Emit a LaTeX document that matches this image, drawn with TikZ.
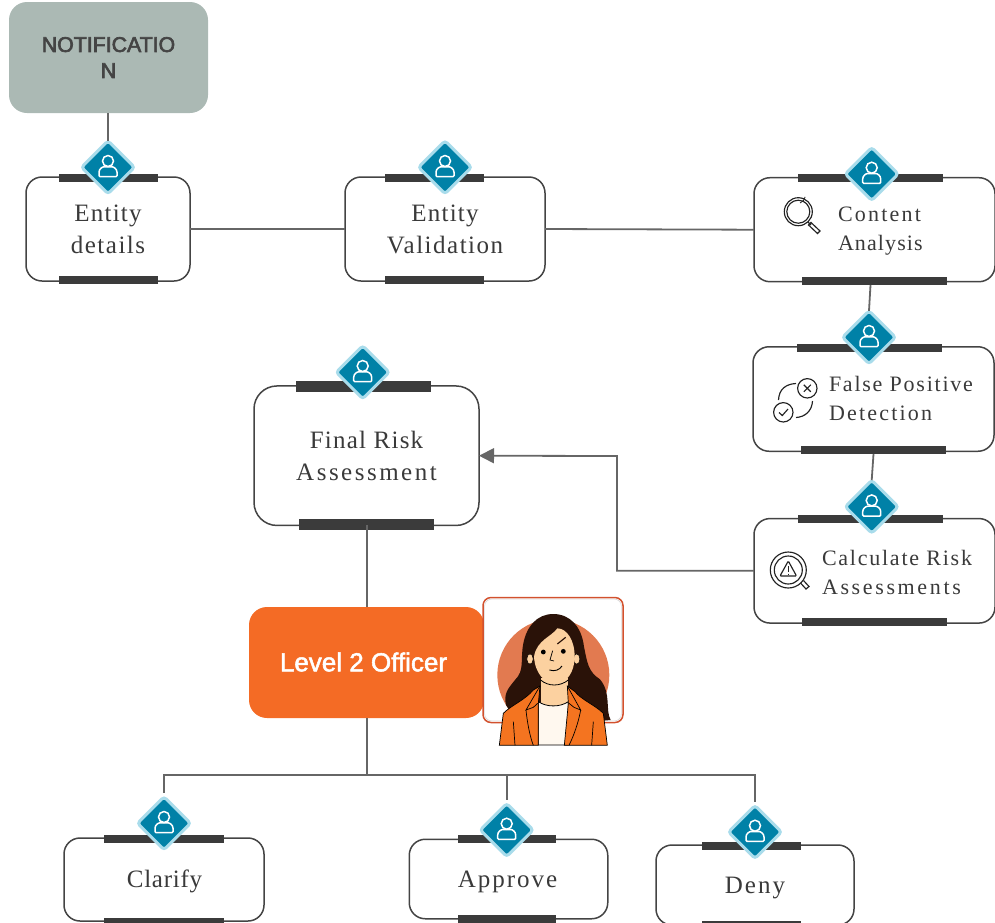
\documentclass[tikz,border=0pt]{standalone}
\usepackage{fontspec}
\usetikzlibrary{shapes.geometric,arrows.meta,calc}
\setmainfont{Liberation Sans}
\newfontfamily\lsb[FakeBold=3]{Liberation Sans}
\newfontfamily\lsc[FakeBold=2]{Liberation Sans}
\newfontfamily\lss[LetterSpace=3]{Liberation Serif}
\newfontfamily\lsn[LetterSpace=5]{Liberation Serif}
\newfontfamily\lso[LetterSpace=6]{Liberation Serif}
\newfontfamily\lsm[LetterSpace=8]{Liberation Serif}
\newfontfamily\lsx[LetterSpace=10]{Liberation Serif}
\newfontfamily\lsw[LetterSpace=12]{Liberation Serif}
\definecolor{ink}{HTML}{444444}
\definecolor{txtc}{HTML}{3A3A3A}
\definecolor{barc}{HTML}{3B3B3B}
\definecolor{linec}{HTML}{666666}
\definecolor{teal1}{HTML}{0081A7}
\definecolor{teal2}{HTML}{A9DCEB}
\definecolor{sage}{HTML}{ABB9B4}
\definecolor{orng}{HTML}{F46B25}
\definecolor{framec}{HTML}{D2512E}
\definecolor{discc}{HTML}{E27A50}
\definecolor{hairc}{HTML}{2A1208}
\definecolor{skinc}{HTML}{FCD1A0}
\definecolor{jackc}{HTML}{F47420}
\definecolor{shirtc}{HTML}{FFF8EF}
\definecolor{iconc}{HTML}{222222}
\tikzset{
  rbox/.style={draw=ink,fill=white,line width=1.5pt,rounded corners=16pt,inner sep=0pt,outer sep=0pt,align=center,text=txtc},
  barn/.style={fill=barc,inner sep=0pt,outer sep=0pt,minimum height=8pt},
  diam/.style={diamond,aspect=1,fill=teal1,draw=teal2,line width=3pt,rounded corners=3pt,inner sep=0pt,outer sep=0pt,minimum width=53pt,minimum height=53pt},
  conn/.style={draw=linec,line width=1.8pt},
  lbl/.style={inner sep=0pt,outer sep=0pt,align=left,text=txtc},
  ctr/.style={inner sep=0pt,outer sep=0pt,align=center,text=txtc},
  ico/.style={draw=iconc,line width=1.15pt,fill=none},
}
% name, centre x, centre y
\newcommand\persondiam[3]{%
  \node[diam] (#1) at (#2,#3) {};
  \begin{scope}[shift={(#2,#3)}]
    \draw[white,line width=1.5pt] (0,-6.3) circle (5.5pt);
    \draw[white,line width=1.5pt,rounded corners=1pt] (-9,9.3) -- (-9,6) .. controls (-9,1.5) and (-5.5,-.5) .. (-3,-.5) -- (3,-.5) .. controls (5.5,-.5) and (9,1.5) .. (9,6) -- (9,9.3) -- cycle;
  \end{scope}%
}
\begin{document}
\begin{tikzpicture}[x=1pt,y=-1pt]
\useasboundingbox (0,0) rectangle (995,922);
\clip (0,0) rectangle (995,922);

% Notification
\node[fill=sage,rounded corners=18pt,minimum width=199pt,minimum height=111pt,inner sep=0pt,outer sep=0pt,align=center,text=ink,font=\fontsize{21.3}{26}\selectfont] (notif) at (108.5,57.5) {\lsb NOTIFICATIO\\\lsb N};

% Boxes
\node[rbox,minimum width=164pt,minimum height=104pt,font=\fontsize{25}{32}\selectfont] (ent) at (108,229) {\lsn Entity\\\lso details};
\node[rbox,minimum width=200pt,minimum height=104pt,font=\fontsize{25}{32}\selectfont] (val) at (445,229) {\lsn Entity\\\lso Validation};
\node[rbox,minimum width=241pt,minimum height=104pt] (cont) at (874.5,229.7) {};
\node[rbox,minimum width=241pt,minimum height=104.5pt] (fals) at (873.5,399) {};
\node[rbox,minimum width=241pt,minimum height=104.5pt] (calc) at (874.5,570.8) {};
\node[rbox,rounded corners=23pt,minimum width=225pt,minimum height=139.5pt,font=\fontsize{25}{32}\selectfont] (final) at (366.5,455.7) {\lsn Final Risk\\\lsx Assessment};
\node[rbox,minimum width=200pt,minimum height=83pt] (clar) at (164,879.5) {};
\node[rbox,minimum width=198.5pt,minimum height=79.5pt] (appr) at (508.5,879) {};
\node[rbox,minimum width=198pt,minimum height=80pt] (deny) at (755,885) {};

% Labels
\node[ctr,font=\fontsize{25}{32}\selectfont] (clarl) at (164.5,881) {\lss Clarify};
\node[ctr,font=\fontsize{25}{32}\selectfont] (apprl) at (507.5,882) {\lsm Approve};
\node[ctr,font=\fontsize{25}{32}\selectfont] (denyl) at (755,888) {\lsm Deny};
\node[lbl,anchor=west,font=\fontsize{22}{29}\selectfont] (contl) at (838,231) {\lsx Content\\\lsn Analysis};
\node[lbl,anchor=west,font=\fontsize{22}{29}\selectfont] (falsl) at (829,398) {\lsm False Positive\\\lsx Detection};
\node[lbl,anchor=west,font=\fontsize{22}{29}\selectfont] (calcl) at (822,572) {\lsm Calculate Risk\\\lsw Assessments};

% Bars
\node[barn,minimum width=99pt] (entt) at (108.5,178) {};
\node[barn,minimum width=99pt] (entb) at (108.5,280) {};
\node[barn,minimum width=99pt] (valt) at (434.5,178) {};
\node[barn,minimum width=99pt] (valb) at (434.5,280) {};
\node[barn,minimum width=145pt] (contt) at (870.5,178) {};
\node[barn,minimum width=145pt] (contb) at (874.5,281) {};
\node[barn,minimum width=145pt] (falst) at (869.5,348) {};
\node[barn,minimum width=145pt] (falsb) at (873.5,450) {};
\node[barn,minimum width=145pt] (calct) at (870.5,519) {};
\node[barn,minimum width=145pt] (calcb) at (874.5,622) {};
\node[barn,minimum width=135pt,minimum height=11pt] (finalt) at (363.5,386.5) {};
\node[barn,minimum width=135pt,minimum height=11pt] (finalb) at (366.5,524.5) {};
\node[barn,minimum width=120pt] (clart) at (164,839) {};
\node[barn,minimum width=120pt] (clarb) at (164,922) {};
\node[barn,minimum width=98pt] (apprt) at (507,839) {};
\node[barn,minimum width=98pt] (apprb) at (507,919) {};
\node[barn,minimum width=99pt] (denyt) at (751.5,846) {};
\node[barn,minimum width=99pt] (denyb) at (751.5,925) {};

% Diamonds
\persondiam{dent}{108}{167.3}
\persondiam{dval}{445}{167.3}
\persondiam{dcont}{871.7}{174}
\persondiam{dfals}{869}{337.3}
\persondiam{dcalc}{871.7}{506.7}
\persondiam{dfinal}{362.7}{372.3}
\persondiam{dclar}{164}{823.3}
\persondiam{dappr}{506.7}{830}
\persondiam{ddeny}{755}{832}

% Connectors
\coordinate (elbow) at (617,456);
\coordinate (bus) at (367,775);
\draw[conn] (dent.north |- notif.south) -- (dent.north);
\draw[conn] (ent.east) -- (val.west);
\draw[conn] (val.east) -- (cont.west);
\draw[conn] ([xshift=1.5pt]dfals.north |- contb.south) -- (dfals.north);
\draw[conn] (falsb.south) -- (dcalc.north);
\draw[conn,-{Triangle[length=15pt,width=15pt]}] (calc.west) -| (elbow) -- (final.east);

% Officer
\node[fill=orng,rounded corners=18pt,minimum width=235pt,minimum height=111pt,inner sep=0pt,outer sep=0pt] (off) at (366.5,662.5) {};
\node[inner sep=0pt,text=white,font=\fontsize{26}{30}\selectfont] (offl) at (363.5,662) {\lsc Level 2 Officer};
\draw[conn] (bus |- final.south) -- (bus |- off.north);
\draw[conn] (bus |- off.south) -- (bus);
\draw[conn,shorten <=4pt] (dclar.north) |- (bus);
\draw[conn,shorten <=4pt] (dappr.north) |- (bus);
\draw[conn,shorten <=4pt] (ddeny.north) |- (bus);

% Avatar frame and portrait
\node[draw=framec,fill=white,line width=1.5pt,rounded corners=8pt,minimum width=140pt,minimum height=125pt,inner sep=0pt,outer sep=0pt] (frame) at (553,660) {};
\draw[black!15,line width=.6pt,rounded corners=7pt] ([shift={(1.6,1.6)}]frame.north west) rectangle ([shift={(-1.6,-1.6)}]frame.south east);
\begin{scope}[shift={(470,590)},x=0.3333pt,y=-0.3333pt]
  \fill[discc] (250,255) circle (56pt);
  \fill[hairc] (250,72) .. controls (200,72) and (170,110) .. (160,160) .. controls (150,210) and (165,240) .. (135,270) .. controls (115,295) and (100,310) .. (108,345) -- (130,380) -- (400,392) -- (422,390) .. controls (405,360) and (425,310) .. (390,268) .. controls (355,245) and (352,220) .. (342,170) .. controls (335,110) and (300,72) .. (250,72) -- cycle;
  \fill[skinc] (212,265) rectangle (295,350);
  \fill[skinc,draw=black,line width=.5pt] (180,207) ellipse (3.2pt and 5.2pt);
  \fill[skinc,draw=black,line width=.5pt] (320,207) ellipse (3.2pt and 5.2pt);
  \fill[skinc] (192,200) .. controls (195,250) and (225,282) .. (255,282) .. controls (290,282) and (314,245) .. (314,200) .. controls (314,150) and (290,115) .. (262,115) .. controls (245,140) and (200,150) .. (192,200) -- cycle;
  \draw[black,line width=.8pt] (212,270) .. controls (235,290) and (270,290) .. (295,270);
  \fill[shirtc,draw=black,line width=.8pt] (205,335) .. controls (230,352) and (270,352) .. (295,335) -- (295,465) -- (205,465) -- cycle;
  \fill[jackc,draw=black,line width=.7pt] (88,466) -- (100,370) .. controls (125,345) and (165,330) .. (190,300) -- (210,288) -- (205,340) -- (205,466) -- cycle;
  \fill[jackc,draw=black,line width=.7pt] (412,466) -- (400,370) .. controls (375,345) and (335,330) .. (315,305) -- (292,288) -- (295,340) -- (283,466) -- cycle;
  \draw[black,line width=.7pt] (210,288) -- (168,360) -- (190,352) -- (203,340);
  \draw[black,line width=.7pt] (292,288) -- (332,360) -- (312,352) -- (297,340);
  \draw[black,line width=.7pt] (168,360) .. controls (172,400) and (180,440) .. (190,466);
  \draw[black,line width=.7pt] (332,360) .. controls (325,400) and (310,440) .. (297,466);
  \draw[black,line width=.7pt] (130,395) -- (135,466);
  \draw[black,line width=.7pt] (370,395) -- (365,466);
  \fill[black] (220,186) circle (2.4pt);
  \fill[black] (280,184) circle (2.4pt);
  \draw[black,line width=.7pt] (248,182) -- (240,210) -- (252,213);
  \draw[black,line width=.9pt] (238,240) .. controls (255,245) and (268,240) .. (276,228);
  \draw[hairc,line width=1.2pt] (262,162) -- (287,142);
\end{scope}

% Magnifier
\draw[ico] (798.3,211.7) circle (14pt);
\draw[ico] (798.3,211.7) circle (11.5pt);
\draw[ico,line width=.8pt] (800,203) arc (-70:-10:8pt);
\draw[ico] (808,222) -- (811,225);
\draw[ico] (811,222.5) -- (820,231) -- (817.5,233.5) -- (808.5,225) -- cycle;

% False positive
\draw[ico] (807.3,388.3) circle (9.7pt);
\draw[ico] (803.8,384.8) -- (810.8,391.8) (810.8,384.8) -- (803.8,391.8);
\draw[ico] (783.3,412.3) circle (9.7pt);
\draw[ico] (779,412.5) -- (782.3,415.5) -- (788,409);
\draw[ico] (778.5,400) .. controls (779,389) and (786,384) .. (796,383.5);
\draw[ico] (812.5,401) .. controls (812,411) and (805,417) .. (796,417.5);

% Risk lens
\draw[ico] (788.3,570) circle (18pt);
\draw[ico] (788.3,570) circle (14pt);
\draw[ico,rounded corners=1pt] (788.3,561) -- (796.5,576) -- (780,576) -- cycle;
\draw[ico] (788.3,566) -- (788.3,572) (788.3,573.5) -- (788.3,574.5);
\draw[ico] (800.5,583) -- (806,589) -- (809,586.5) -- (803.5,580.5);
\end{tikzpicture}
\end{document}
